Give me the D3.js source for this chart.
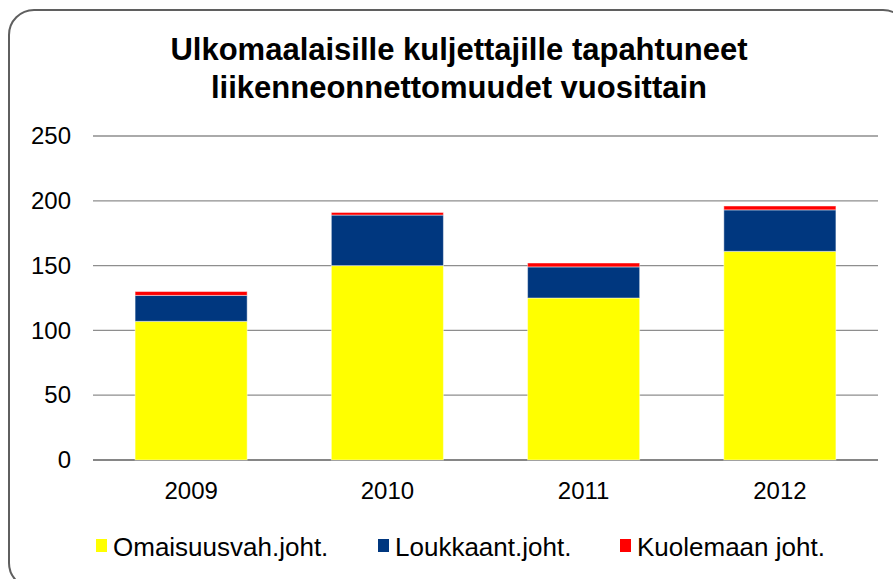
<!DOCTYPE html>
<html>
<head>
<meta charset="utf-8">
<script src="https://cdn.jsdelivr.net/npm/d3@7"></script>
<style>
  body { margin: 0; background: #fff; }
  svg { display: block; font-family: "Liberation Sans", Arial, sans-serif; }
</style>
</head>
<body>
<div id="drawing_region"></div>
<script>
// values
let years = ['2009', '2010', '2011', '2012'];
let omaisuus = [107, 150, 125, 161];
let loukkaant = [20, 39, 24, 32];
let kuolema = [3, 2, 3, 3];
let series_names = ['Omaisuusvah.joht.', 'Loukkaant.joht.', 'Kuolemaan joht.'];
let series_colors = ['#ffff00', '#00377f', '#ff0000'];
let y_ticks = [0, 50, 100, 150, 200, 250];
let title_lines = ['Ulkomaalaisille kuljettajille tapahtuneet', 'liikenneonnettomuudet vuosittain'];

var width = 893,
    height = 579;

var svg = d3.select('#drawing_region')
    .append('svg')
    .attr('width', width)
    .attr('height', height);

// chart frame
svg.append('rect')
    .attr('x', 9)
    .attr('y', 10)
    .attr('width', 899)
    .attr('height', 578)
    .attr('rx', 25)
    .attr('fill', '#fff')
    .attr('stroke', '#5f5f5f')
    .attr('stroke-width', 2);

// title
svg.append('text')
    .attr('text-anchor', 'middle')
    .attr('font-weight', 'bold')
    .attr('font-size', 31)
    .attr('fill', '#000')
    .selectAll('tspan')
    .data(title_lines)
    .enter()
    .append('tspan')
    .attr('x', 459)
    .attr('y', (d, i) => 60 + i * 38)
    .text(d => d);

var x_scale = d3.scaleBand()
    .domain(years)
    .range([93, 878])
    .paddingInner(0.429)
    .paddingOuter(0.2145);

var y_scale = d3.scaleLinear()
    .domain([0, 250])
    .range([460, 136]);

// gridlines
svg.append('g')
    .selectAll('line')
    .data(y_ticks)
    .enter()
    .append('line')
    .attr('x1', 93)
    .attr('x2', 878)
    .attr('y1', d => y_scale(d))
    .attr('y2', d => y_scale(d))
    .attr('stroke', d => d == 0 ? '#868686' : '#8e8e8e')
    .attr('stroke-width', d => d == 0 ? 2 : 1.3);

// y axis labels
var y_axis = d3.axisLeft(y_scale)
    .tickValues(y_ticks)
    .tickSize(0)
    .tickPadding(0);
var yg = svg.append('g')
    .attr('transform', 'translate(71,0)')
    .call(y_axis);
yg.select('.domain').remove();
yg.selectAll('text')
    .attr('font-size', 24)
    .attr('font-family', '"Liberation Sans", Arial, sans-serif')
    .attr('fill', '#000');

// x axis labels
var x_axis = d3.axisBottom(x_scale)
    .tickSize(0)
    .tickPadding(22);
var xg = svg.append('g')
    .attr('transform', 'translate(0,460)')
    .call(x_axis);
xg.select('.domain').remove();
xg.selectAll('text')
    .attr('font-size', 24)
    .attr('font-family', '"Liberation Sans", Arial, sans-serif')
    .attr('fill', '#000');

// stacked bars
var table = years.map((y, i) => ({
    year: y,
    omaisuus: omaisuus[i],
    loukkaant: loukkaant[i],
    kuolema: kuolema[i]
}));
var keys = ['omaisuus', 'loukkaant', 'kuolema'];
var stacked = d3.stack().keys(keys)(table);

svg.append('g')
    .selectAll('g')
    .data(stacked)
    .enter()
    .append('g')
    .attr('fill', (d, i) => series_colors[i])
    .selectAll('rect')
    .data(d => d)
    .enter()
    .append('rect')
    .attr('x', d => x_scale(d.data.year))
    .attr('width', x_scale.bandwidth())
    .attr('y', d => y_scale(d[1]))
    .attr('height', d => y_scale(d[0]) - y_scale(d[1]))
    .attr('stroke', '#ffffff')
    .attr('stroke-opacity', 0.45)
    .attr('stroke-width', 1);

// legend
var legend_x = [96, 378, 620];
var legend = svg.append('g')
    .selectAll('g')
    .data(series_names)
    .enter()
    .append('g')
    .attr('transform', (d, i) => `translate(${legend_x[i]},0)`);
legend.append('rect')
    .attr('x', 0)
    .attr('y', 539)
    .attr('width', 11)
    .attr('height', 13)
    .attr('fill', (d, i) => series_colors[i]);
legend.append('text')
    .attr('x', 17)
    .attr('y', 556)
    .attr('font-size', 26)
    .attr('fill', '#000')
    .text(d => d);
</script>
</body>
</html>
